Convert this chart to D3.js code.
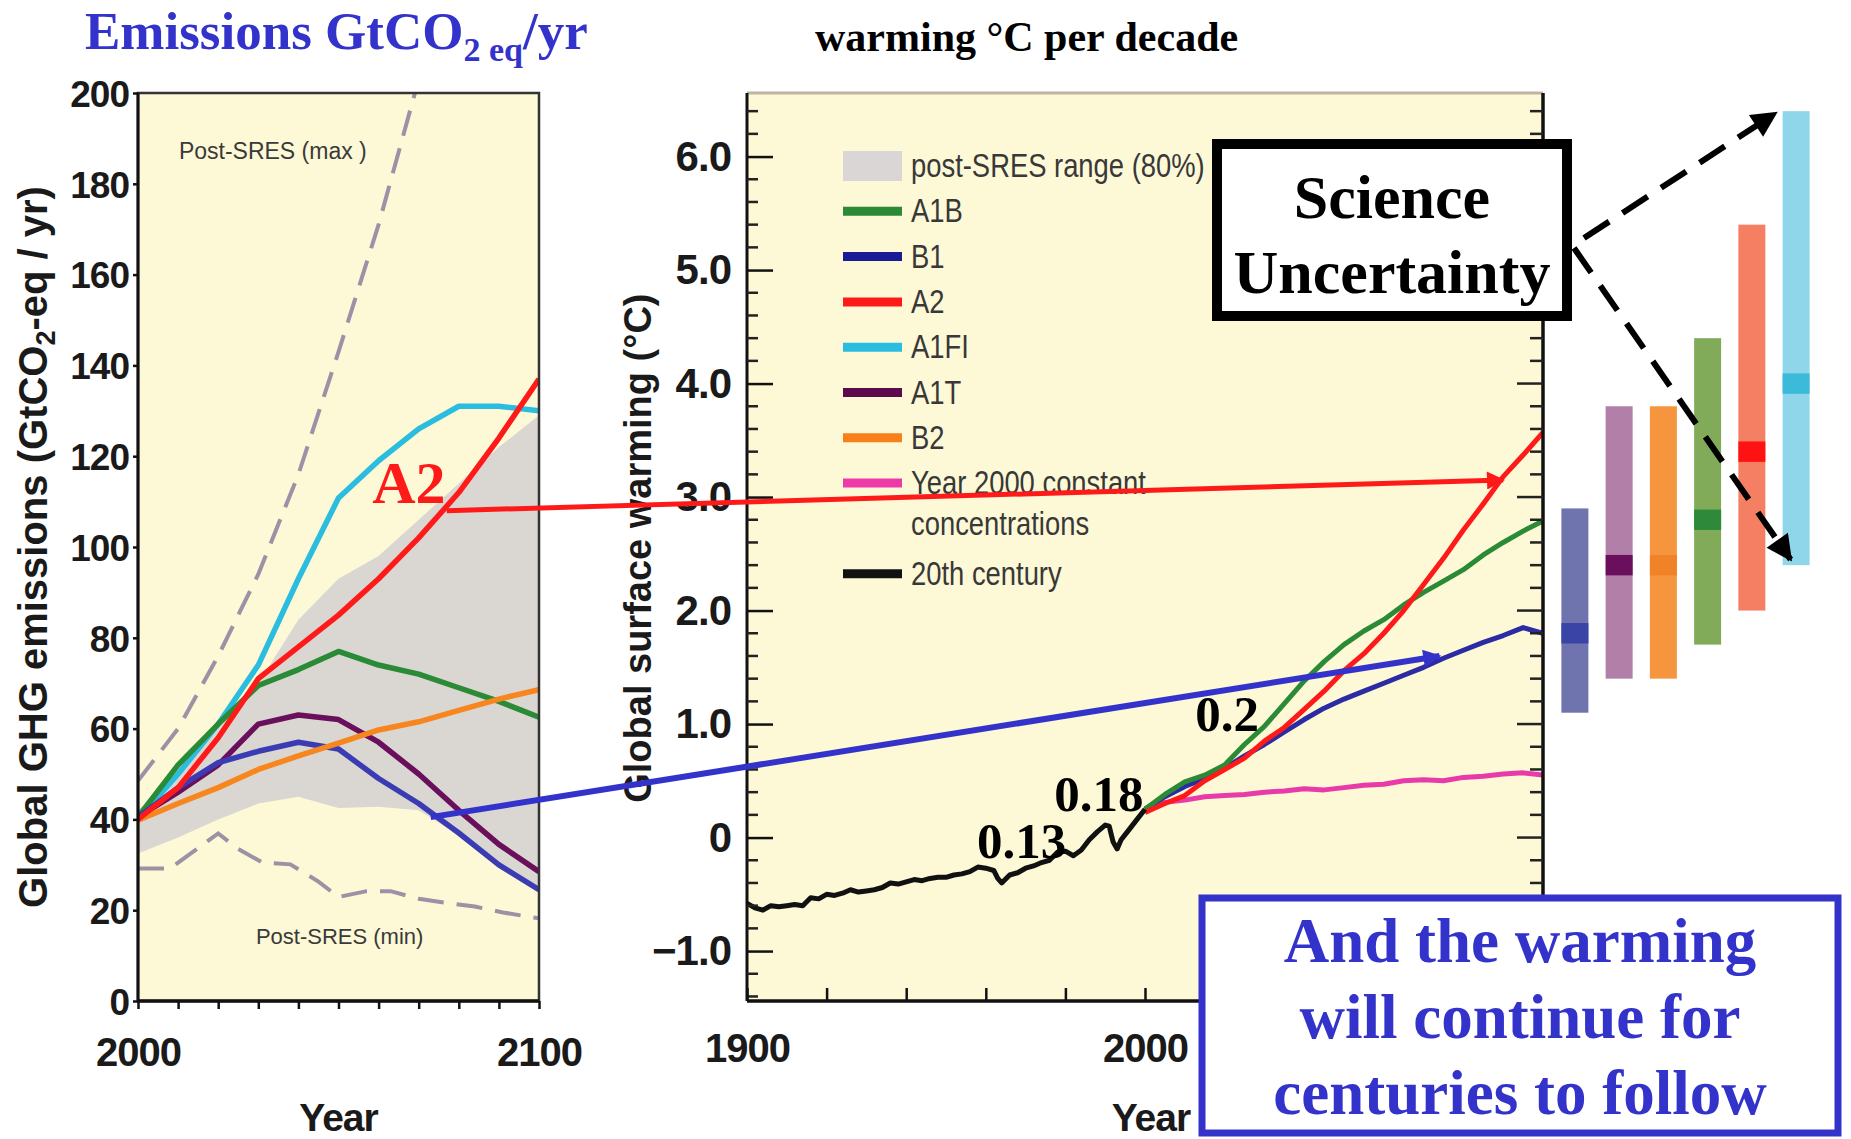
<!DOCTYPE html>
<meta charset="utf-8">
<head>
<style>
    body {margin: 0; background: #fff;}
    svg {display: block;}
</style>
<script src="https://cdnjs.cloudflare.com/ajax/libs/d3/7.8.5/d3.min.js"></script>
</head>
<body>
<div id="chart"></div>
<script>

// ---- left panel: GHG emissions, GtCO2-eq / yr ----
var emYears = [2000, 2010, 2020, 2030, 2040, 2050, 2060, 2070, 2080, 2090, 2100];
var emA1FI  = [40, 50, 61, 74, 93, 110.8, 119, 126, 131, 131, 130];
var emA1B   = [40.5, 52, 61, 69.5, 73, 77, 74, 72, 69, 66, 62.5];
var emA1T   = [40.5, 46, 52, 61, 63, 62, 57, 50, 42, 34.5, 28.5];
var emB1    = [40.5, 47, 52.5, 55, 57, 55.5, 49, 43.5, 37, 30, 24.5];
var emB2    = [39.8, 43.5, 47, 51, 54, 56.8, 59.7, 61.5, 64, 66.5, 68.6];
var emA2    = [40, 47, 58, 71, 78, 85, 93, 102, 112, 124, 137];
var emRangeHigh = [42, 50, 60, 70, 84, 93, 98, 106, 114, 122, 129];
var emRangeLow  = [32.5, 36, 40, 43.5, 45, 42.5, 42.8, 42, 36.5, 29.5, 24];
var emMaxYears = [2000, 2010, 2020, 2030, 2040, 2050, 2060, 2070];
var emMaxVals  = [48.5, 60, 76, 94, 116, 143, 171, 203];
var emMinYears = [2000, 2008, 2020, 2025, 2031, 2038, 2045, 2050, 2057, 2063, 2070, 2077, 2084, 2091, 2100];
var emMinVals  = [29.2, 29.2, 36.9, 33.5, 30.5, 30.1, 26.3, 22.9, 24.2, 24.2, 22.5, 21.6, 20.8, 19.5, 18.2];
var emTicks = [0, 20, 40, 60, 80, 100, 120, 140, 160, 180, 200];

// ---- middle panel: global surface warming, deg C ----
var histYears = [1900,1902,1904,1906,1908,1910,1912,1914,1916,1918,1920,1922,1924,1926,1928,1930,1932,1934,1936,1938,1940,1942,1944,1946,1948,1950,1952,1954,1956,1958,1960,1962,1963,1964,1966,1968,1970,1972,1974,1976,1978,1980,1982,1984,1986,1988,1990,1991,1992,1993,1994,1996,1998,2000];
var histVals  = [-0.58,-0.62,-0.64,-0.60,-0.61,-0.60,-0.59,-0.60,-0.53,-0.54,-0.50,-0.51,-0.49,-0.46,-0.48,-0.47,-0.46,-0.44,-0.40,-0.41,-0.39,-0.37,-0.38,-0.36,-0.35,-0.35,-0.33,-0.32,-0.30,-0.26,-0.27,-0.29,-0.36,-0.40,-0.33,-0.31,-0.27,-0.25,-0.22,-0.20,-0.13,-0.12,-0.16,-0.11,-0.02,0.05,0.11,0.10,-0.04,-0.10,-0.02,0.07,0.16,0.25];
var projYears = [2000,2005,2010,2015,2020,2025,2030,2035,2040,2045,2050,2055,2060,2065,2070,2075,2080,2085,2090,2095,2100];
var wA2   = [0.22,0.30,0.37,0.50,0.60,0.70,0.85,0.97,1.13,1.29,1.47,1.62,1.80,2.00,2.23,2.46,2.71,2.94,3.18,3.37,3.57];
var wA1B  = [0.25,0.38,0.49,0.55,0.64,0.82,0.98,1.18,1.38,1.55,1.70,1.82,1.92,2.05,2.16,2.26,2.36,2.49,2.60,2.70,2.79];
var wB1   = [0.25,0.36,0.45,0.52,0.61,0.72,0.82,0.93,1.04,1.14,1.22,1.29,1.36,1.43,1.50,1.58,1.65,1.72,1.78,1.85,1.80];
var wConst = [0.25,0.31,0.33,0.36,0.37,0.38,0.40,0.41,0.43,0.42,0.44,0.46,0.47,0.50,0.51,0.50,0.53,0.54,0.56,0.57,0.55];
var wTicks = [-1, 0, 1, 2, 3, 4, 5, 6];
var wYearLabels = [1900, 2000];

var legendLabels = ["post-SRES range (80%)", "A1B", "B1", "A2", "A1FI", "A1T", "B2", "Year 2000 constant|concentrations", "20th century"];
var legendColors = ["#d9d6d5", "#2a8a35", "#1a1a96", "#ff1a1a", "#2bbde0", "#5c0a4e", "#f7801a", "#ee3aa8", "#111111"];

// ---- right: likely ranges 2090-2099 ----
var barNames = ["B1", "A1T", "B2", "A1B", "A2", "A1FI"];
var barLow  = [1.1, 1.4, 1.4, 1.7, 2.0, 2.4];
var barHigh = [2.9, 3.8, 3.8, 4.4, 5.4, 6.4];
var barBest = [1.8, 2.4, 2.4, 2.8, 3.4, 4.0];
var barFill = ["#6f73ae", "#b17fa8", "#f5963f", "#82ab59", "#f47f63", "#8fd6ea"];
var barMark = ["#3a43a6", "#6a0f5c", "#f08328", "#2e8a3a", "#ff1212", "#3cbad9"];

var rateLabels = ["0.13", "0.18", "0.2"];
var rateYears  = [1957.8, 1977.2, 2012.6];
var rateVals   = [-0.18, 0.23, 0.94];

var serif = '"Liberation Serif","Times New Roman",serif';
var sans = '"Liberation Sans",Arial,sans-serif';
var paper = "#fdf8d6";
var navy = "#3333cc";

var svg = d3.select("#chart").append("svg")
    .attr("width", 1851)
    .attr("height", 1139)
    .style("background", "#fff");

var defs = svg.append("defs");

function marker(id, color, w, h) {
    defs.append("marker")
        .attr("id", id)
        .attr("viewBox", "0 0 10 10")
        .attr("refX", 9).attr("refY", 5)
        .attr("markerUnits", "userSpaceOnUse")
        .attr("markerWidth", w).attr("markerHeight", h)
        .attr("orient", "auto")
        .append("path").attr("d", "M0,0L10,5L0,10Z").attr("fill", color);
}
marker("headRed", "#ff1a1a", 24, 18);
marker("headBlue", navy, 26, 18);
marker("headBlack", "#000", 30, 26);

function styleAxis(g, size) {
    g.select(".domain").remove();
    g.selectAll("line").attr("stroke", "#111").attr("stroke-width", 2.5);
    g.selectAll("text")
        .style("font-family", sans)
        .style("font-weight", "bold")
        .style("font-size", size + "px")
        .style("letter-spacing", "-1px")
        .attr("fill", "#1a1a1a");
}

// ================= left panel =================
var xE = d3.scaleLinear().domain([2000, 2100]).range([138, 539]);
var yE = d3.scaleLinear().domain([0, 200]).range([1001, 93]);

defs.append("clipPath").attr("id", "clipE").append("rect")
    .attr("x", xE(2000)).attr("y", yE(200))
    .attr("width", xE(2100) - xE(2000)).attr("height", yE(0) - yE(200));

var left = svg.append("g");
left.append("rect")
    .attr("x", xE(2000)).attr("y", yE(200))
    .attr("width", xE(2100) - xE(2000)).attr("height", yE(0) - yE(200))
    .style("fill", paper);

var plotE = left.append("g").attr("clip-path", "url(#clipE)");

var bandE = d3.area()
    .x(function(d, i) { return xE(emYears[i]); })
    .y0(function(d, i) { return yE(emRangeLow[i]); })
    .y1(function(d) { return yE(d); });
plotE.append("path").datum(emRangeHigh).attr("d", bandE).style("fill", "#dad6d2");

var lineXY = function(xs, sx, sy) {
    return d3.line().x(function(d, i) { return sx(xs[i]); }).y(function(d) { return sy(d); });
};

plotE.append("path").datum(emMaxVals).attr("d", lineXY(emMaxYears, xE, yE))
    .style("fill", "none").style("stroke", "#9c92a6").style("stroke-width", 4).style("stroke-dasharray", "26,13");
plotE.append("path").datum(emMinVals).attr("d", lineXY(emMinYears, xE, yE))
    .style("fill", "none").style("stroke", "#9c92a6").style("stroke-width", 4).style("stroke-dasharray", "26,13");

var emSeries = [
    {v: emA1FI, c: "#2bbde0"},
    {v: emA1B, c: "#2a8a35"},
    {v: emA1T, c: "#6a0f5c"},
    {v: emB1, c: "#3b3bb3"},
    {v: emB2, c: "#f7861e"},
    {v: emA2, c: "#ff1a1a"}
];
plotE.selectAll("path.em").data(emSeries).enter().append("path")
    .attr("class", "em")
    .attr("d", function(d) { return lineXY(emYears, xE, yE)(d.v); })
    .style("fill", "none")
    .style("stroke", function(d) { return d.c; })
    .style("stroke-width", 5.5)
    .style("stroke-linejoin", "round");

left.append("text").attr("x", xE(2010.2)).attr("y", yE(185.5))
    .text("Post-SRES (max )")
    .style("font-family", sans).style("font-size", "23px").attr("fill", "#3a3a3a");
left.append("text").attr("x", xE(2029.4)).attr("y", yE(12.5))
    .text("Post-SRES (min)")
    .style("font-family", sans).style("font-size", "22px").attr("fill", "#3a3a3a");

left.append("rect")
    .attr("x", xE(2000)).attr("y", yE(200))
    .attr("width", xE(2100) - xE(2000)).attr("height", yE(0) - yE(200))
    .style("fill", "none").style("stroke", "#333").style("stroke-width", 2.5);
left.append("line").attr("x1", xE(2000)).attr("x2", xE(2100)).attr("y1", yE(0)).attr("y2", yE(0))
    .style("stroke", "#111").style("stroke-width", 3.5);
left.append("line").attr("x1", xE(2000)).attr("x2", xE(2000)).attr("y1", yE(0)).attr("y2", yE(200))
    .style("stroke", "#111").style("stroke-width", 3);

left.append("g").attr("transform", "translate(" + xE(2000) + ",0)")
    .call(d3.axisLeft(yE).tickValues(emTicks).tickSize(5).tickPadding(4))
    .call(styleAxis, 37);
left.selectAll("g.tick text").attr("dy", "0.36em");

var xAxE = left.append("g").attr("transform", "translate(0," + yE(0) + ")")
    .call(d3.axisBottom(xE).tickValues(d3.range(2000, 2101, 10)).tickSize(8)
        .tickFormat(function(d) { return (d === 2000 || d === 2100) ? d : ""; }))
    .call(styleAxis, 40);
xAxE.selectAll("text").attr("y", 65).attr("dy", 0);

left.append("text").attr("x", (xE(2000) + xE(2100)) / 2).attr("y", 1131)
    .attr("text-anchor", "middle").text("Year")
    .style("font-family", sans).style("font-weight", "bold").style("font-size", "39px")
    .style("letter-spacing", "-1px").attr("fill", "#1a1a1a");

var ylabE = left.append("text")
    .attr("transform", "translate(47," + (yE(0) + yE(200)) / 2 + ") rotate(-90)")
    .attr("text-anchor", "middle")
    .style("font-family", sans).style("font-weight", "bold").style("font-size", "40px")
    .attr("fill", "#1a1a1a");
ylabE.append("tspan").text("Global GHG emissions (GtCO");
ylabE.append("tspan").text("2").style("font-size", "27px").attr("dy", 8);
ylabE.append("tspan").text("-eq / yr)").attr("dy", -8);

// ================= middle panel =================
var xW = d3.scaleLinear().domain([1900, 2100]).range([747, 1543]);
var yW = d3.scaleLinear().domain([-1.44, 6.56]).range([1001, 93]);

defs.append("clipPath").attr("id", "clipW").append("rect")
    .attr("x", xW(1900)).attr("y", yW(6.56))
    .attr("width", xW(2100) - xW(1900)).attr("height", yW(-1.44) - yW(6.56));

var mid = svg.append("g");
mid.append("rect")
    .attr("x", xW(1900)).attr("y", yW(6.56))
    .attr("width", xW(2100) - xW(1900)).attr("height", yW(-1.44) - yW(6.56))
    .style("fill", paper);
mid.append("line").attr("x1", xW(1900)).attr("x2", xW(2100)).attr("y1", yW(6.56)).attr("y2", yW(6.56))
    .style("stroke", "#bdb5a2").style("stroke-width", 3);

var plotW = mid.append("g").attr("clip-path", "url(#clipW)");
var projSeries = [
    {v: wConst, c: "#e83aa8"},
    {v: wB1, c: "#2b2ba3"},
    {v: wA1B, c: "#2a8a35"},
    {v: wA2, c: "#ff1a1a"}
];
plotW.selectAll("path.proj").data(projSeries).enter().append("path")
    .attr("class", "proj")
    .attr("d", function(d) { return lineXY(projYears, xW, yW)(d.v); })
    .style("fill", "none")
    .style("stroke", function(d) { return d.c; })
    .style("stroke-width", 5)
    .style("stroke-linejoin", "round");
plotW.append("path").datum(histVals).attr("d", lineXY(histYears, xW, yW))
    .style("fill", "none").style("stroke", "#111").style("stroke-width", 5).style("stroke-linejoin", "round");

// legend (condensed sans, squeezed horizontally)
var legX = 911, legY0 = 166, legStep = 45.3;
var slot = 0;
legendLabels.forEach(function(lab, i) {
    var yy = legY0 + slot * legStep;
    if (i === 0) {
        mid.append("rect").attr("x", 843).attr("y", yy - 15).attr("width", 59).attr("height", 30)
            .style("fill", legendColors[i]);
    } else {
        mid.append("line").attr("x1", 843).attr("x2", 902).attr("y1", yy).attr("y2", yy)
            .style("stroke", legendColors[i]).style("stroke-width", 9);
    }
    var parts = lab.split("|");
    var t = mid.append("text")
        .attr("transform", "translate(" + legX + "," + (yy + 11) + ") scale(0.83,1)")
        .style("font-family", sans).style("font-size", "33px").attr("fill", "#383838");
    parts.forEach(function(p, k) {
        t.append("tspan").attr("x", 0).attr("dy", k === 0 ? 0 : legStep * 0.9).text(p);
    });
    slot += parts.length;
});

// axes
mid.append("line").attr("x1", xW(1900)).attr("x2", xW(1900)).attr("y1", yW(-1.44)).attr("y2", yW(6.56))
    .style("stroke", "#111").style("stroke-width", 3);
mid.append("line").attr("x1", xW(2100)).attr("x2", xW(2100)).attr("y1", yW(-1.44)).attr("y2", yW(6.56))
    .style("stroke", "#111").style("stroke-width", 3.5);
mid.append("line").attr("x1", xW(1900)).attr("x2", xW(2100)).attr("y1", yW(-1.44)).attr("y2", yW(-1.44))
    .style("stroke", "#111").style("stroke-width", 3.5);

var minors = d3.range(-7, 33).filter(function(k) { return k % 5 !== 0; }).map(function(k) { return k / 5; });
mid.selectAll("line.minL").data(minors).enter().append("line")
    .attr("x1", xW(1900)).attr("x2", xW(1900) + 11)
    .attr("y1", function(d) { return yW(d); }).attr("y2", function(d) { return yW(d); })
    .style("stroke", "#222").style("stroke-width", 2.5);
mid.selectAll("line.minR").data(minors).enter().append("line")
    .attr("x1", xW(2100)).attr("x2", xW(2100) - 13)
    .attr("y1", function(d) { return yW(d); }).attr("y2", function(d) { return yW(d); })
    .style("stroke", "#222").style("stroke-width", 2.5);
mid.selectAll("line.majR").data(wTicks).enter().append("line")
    .attr("x1", xW(2100)).attr("x2", xW(2100) - 26)
    .attr("y1", function(d) { return yW(d); }).attr("y2", function(d) { return yW(d); })
    .style("stroke", "#222").style("stroke-width", 2.5);

mid.append("g").attr("transform", "translate(" + xW(1900) + ",0)")
    .call(d3.axisLeft(yW).tickValues(wTicks).tickSize(-26).tickPadding(16)
        .tickFormat(function(d) { return d === 0 ? "0" : (d < 0 ? "\u2212" + Math.abs(d).toFixed(1) : d.toFixed(1)); }))
    .call(styleAxis, 42);

var xAxW = mid.append("g").attr("transform", "translate(0," + yW(-1.44) + ")")
    .call(d3.axisBottom(xW).tickValues(d3.range(1900, 2101, 20)).tickSize(-13)
        .tickFormat(function(d) { return wYearLabels.indexOf(d) >= 0 ? d : ""; }))
    .call(styleAxis, 40);
xAxW.selectAll("text").attr("y", 61).attr("dy", 0);

mid.append("text").attr("x", xW(2001.5)).attr("y", 1131)
    .attr("text-anchor", "middle").text("Year")
    .style("font-family", sans).style("font-weight", "bold").style("font-size", "39px")
    .style("letter-spacing", "-1px").attr("fill", "#1a1a1a");

mid.append("text")
    .attr("transform", "translate(651," + (yW(2.55)) + ") rotate(-90)")
    .attr("text-anchor", "middle")
    .text("Global surface warming (\u00b0C)")
    .style("font-family", sans).style("font-weight", "bold").style("font-size", "38px")
    .attr("fill", "#1a1a1a");

// decadal warming rates
mid.selectAll("text.rate").data(rateLabels).enter().append("text")
    .attr("x", function(d, i) { return xW(rateYears[i]); })
    .attr("y", function(d, i) { return yW(rateVals[i]); })
    .text(function(d) { return d; })
    .style("font-family", serif).style("font-weight", "bold").style("font-size", "51px")
    .attr("fill", "#000");

// ================= right bars =================
var xB = d3.scaleBand().domain(barNames).range([1553, 1818]).paddingInner(0.39).paddingOuter(0.19);
var bars = svg.append("g");
bars.selectAll("rect.rng").data(barNames).enter().append("rect")
    .attr("x", function(d) { return xB(d); })
    .attr("width", xB.bandwidth())
    .attr("y", function(d, i) { return yW(barHigh[i]); })
    .attr("height", function(d, i) { return yW(barLow[i]) - yW(barHigh[i]); })
    .style("fill", function(d, i) { return barFill[i]; });
bars.selectAll("rect.best").data(barNames).enter().append("rect")
    .attr("x", function(d) { return xB(d); })
    .attr("width", xB.bandwidth())
    .attr("y", function(d, i) { return yW(barBest[i] + 0.09); })
    .attr("height", function(d, i) { return yW(barBest[i] - 0.09) - yW(barBest[i] + 0.09); })
    .style("fill", function(d, i) { return barMark[i]; });

// ================= annotations =================
var ann = svg.append("g");
ann.append("text").attr("x", xE(2058.4)).attr("y", yE(109.8)).text("A2")
    .style("font-family", serif).style("font-weight", "bold").style("font-size", "60px").attr("fill", "#ff1a1a");

ann.append("line")
    .attr("x1", xE(2077)).attr("y1", yE(108))
    .attr("x2", xW(2090)).attr("y2", yW(3.15))
    .style("stroke", "#ff1a1a").style("stroke-width", 5).attr("marker-end", "url(#headRed)");
ann.append("line")
    .attr("x1", xE(2073)).attr("y1", yE(40.5))
    .attr("x2", xW(2074)).attr("y2", yW(1.6))
    .style("stroke", navy).style("stroke-width", 6).attr("marker-end", "url(#headBlue)");

// Science Uncertainty box
var boxS = {x: 1217, y: 144, w: 350, h: 172};
ann.append("rect").attr("x", boxS.x).attr("y", boxS.y).attr("width", boxS.w).attr("height", boxS.h)
    .style("fill", "#fff").style("stroke", "#000").style("stroke-width", 10);
["Science", "Uncertainty"].forEach(function(s, i) {
    ann.append("text").attr("x", boxS.x + boxS.w / 2).attr("y", 218 + i * 75)
        .attr("text-anchor", "middle").text(s)
        .style("font-family", serif).style("font-weight", "bold").style("font-size", "62px").attr("fill", "#000");
});

ann.append("line")
    .attr("x1", 1584).attr("y1", 238)
    .attr("x2", xB("A1FI") - 7).attr("y2", yW(6.4) + 2)
    .style("stroke", "#000").style("stroke-width", 6).style("stroke-dasharray", "30,16")
    .attr("marker-end", "url(#headBlack)");
ann.append("line")
    .attr("x1", 1574).attr("y1", 248)
    .attr("x2", xB("A1FI") + 8).attr("y2", yW(2.45))
    .style("stroke", "#000").style("stroke-width", 6).style("stroke-dasharray", "30,16")
    .attr("marker-end", "url(#headBlack)");

// blue box
var boxB = {x: 1202, y: 898, w: 636, h: 235};
ann.append("rect").attr("x", boxB.x).attr("y", boxB.y).attr("width", boxB.w).attr("height", boxB.h)
    .style("fill", "#fff").style("stroke", navy).style("stroke-width", 7);
["And the warming", "will continue for", "centuries to follow"].forEach(function(s, i) {
    ann.append("text").attr("x", boxB.x + boxB.w / 2).attr("y", 962 + i * 76)
        .attr("text-anchor", "middle").text(s)
        .style("font-family", serif).style("font-weight", "bold").style("font-size", "63px").attr("fill", navy);
});

// titles
var t1 = svg.append("text").attr("x", 85).attr("y", 49)
    .style("font-family", serif).style("font-weight", "bold").attr("fill", navy).style("font-size", "53px");
t1.append("tspan").text("Emissions GtCO");
t1.append("tspan").text("2 eq").style("font-size", "34px").attr("dy", 12);
t1.append("tspan").text("/yr").attr("dy", -12);

svg.append("text").attr("x", 815).attr("y", 51)
    .text("warming \u00b0C per decade")
    .style("font-family", serif).style("font-weight", "bold").style("font-size", "42px").attr("fill", "#000");

</script>
</body>
